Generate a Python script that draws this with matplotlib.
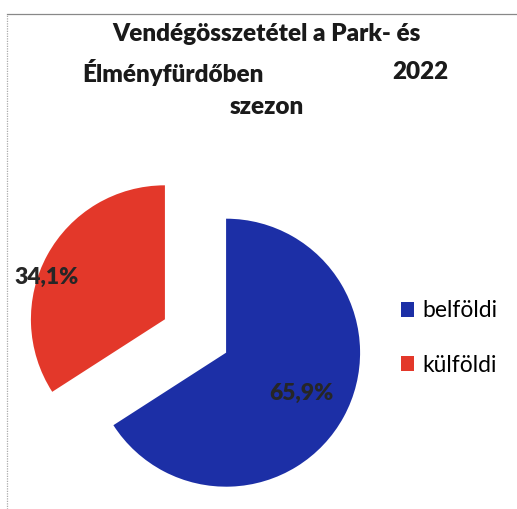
import matplotlib.pyplot as plt
from matplotlib.lines import Line2D
from matplotlib.patches import Patch

# data
labels = ["belföldi", "külföldi"]
shares = [65.9, 34.1]
pct_text = ["65,9%", "34,1%"]
colors = ["#1c2fa6", "#e3382a"]

title_1 = "Vendégösszetétel a Park- és"
title_2a = "Élményfürdőben"
title_2b = "2022"
title_3 = "szezon"

plt.rcParams['font.family'] = ['Lato', 'DejaVu Sans']

W, H = 517, 509
fig = plt.figure(figsize=(W / 100, H / 100), dpi=100)
fig.patch.set_facecolor('white')


def fx(px):
    return px / W


def fy(px):
    return 1 - px / H


# frame lines (top + left) like the cropped chart area
fig.add_artist(Line2D([fx(7), 1], [fy(14), fy(14)], color='#888888', lw=0.9))
fig.add_artist(Line2D([fx(7), fx(7)], [0, fy(14)], color='#aaaaaa', lw=0.9, ls=(0, (1, 1))))

tkw = dict(fontsize=17.5, fontweight='heavy', color='#1a1a1a', va='center')
fig.text(fx(266), fy(34), title_1, ha='center', **tkw)
fig.text(fx(82), fy(72), title_2a, ha='left', **tkw)
fig.text(fx(448), fy(72), title_2b, ha='right', **tkw)
fig.text(fx(267), fy(107), title_3, ha='center', **tkw)

# pie axes: centre ~ (195, 336) px, radius ~134 px
r_px = 134
cx, cy = 195.5, 336
lim = 1.45
ax_size = 2 * lim * r_px
ax = fig.add_axes([fx(cx - ax_size / 2), fy(cy + ax_size / 2), ax_size / W, ax_size / H])
wedges, _ = ax.pie(shares, colors=colors, startangle=90, counterclock=False,
                   explode=[0.26, 0.26], radius=1.0)
ax.set_xlim(-lim, lim)
ax.set_ylim(-lim, lim)
ax.set_aspect('equal')
ax.axis('off')

# percentage labels
ax.text(0.79, -0.425, pct_text[0], ha='center', va='center', fontsize=16.5,
        fontweight='heavy', color='#262626')
ax.text(-1.11, 0.44, pct_text[1], ha='center', va='center', fontsize=16.5,
        fontweight='heavy', color='#262626')

handles = [Patch(facecolor=c, edgecolor='none') for c in colors]
fig.legend(handles, labels, loc='center left', bbox_to_anchor=(fx(380), fy(338)),
           frameon=False, fontsize=16.5, handlelength=0.6, handleheight=0.6,
           handletextpad=0.35, labelspacing=1.45)

fig.savefig('out.png', dpi=100)
